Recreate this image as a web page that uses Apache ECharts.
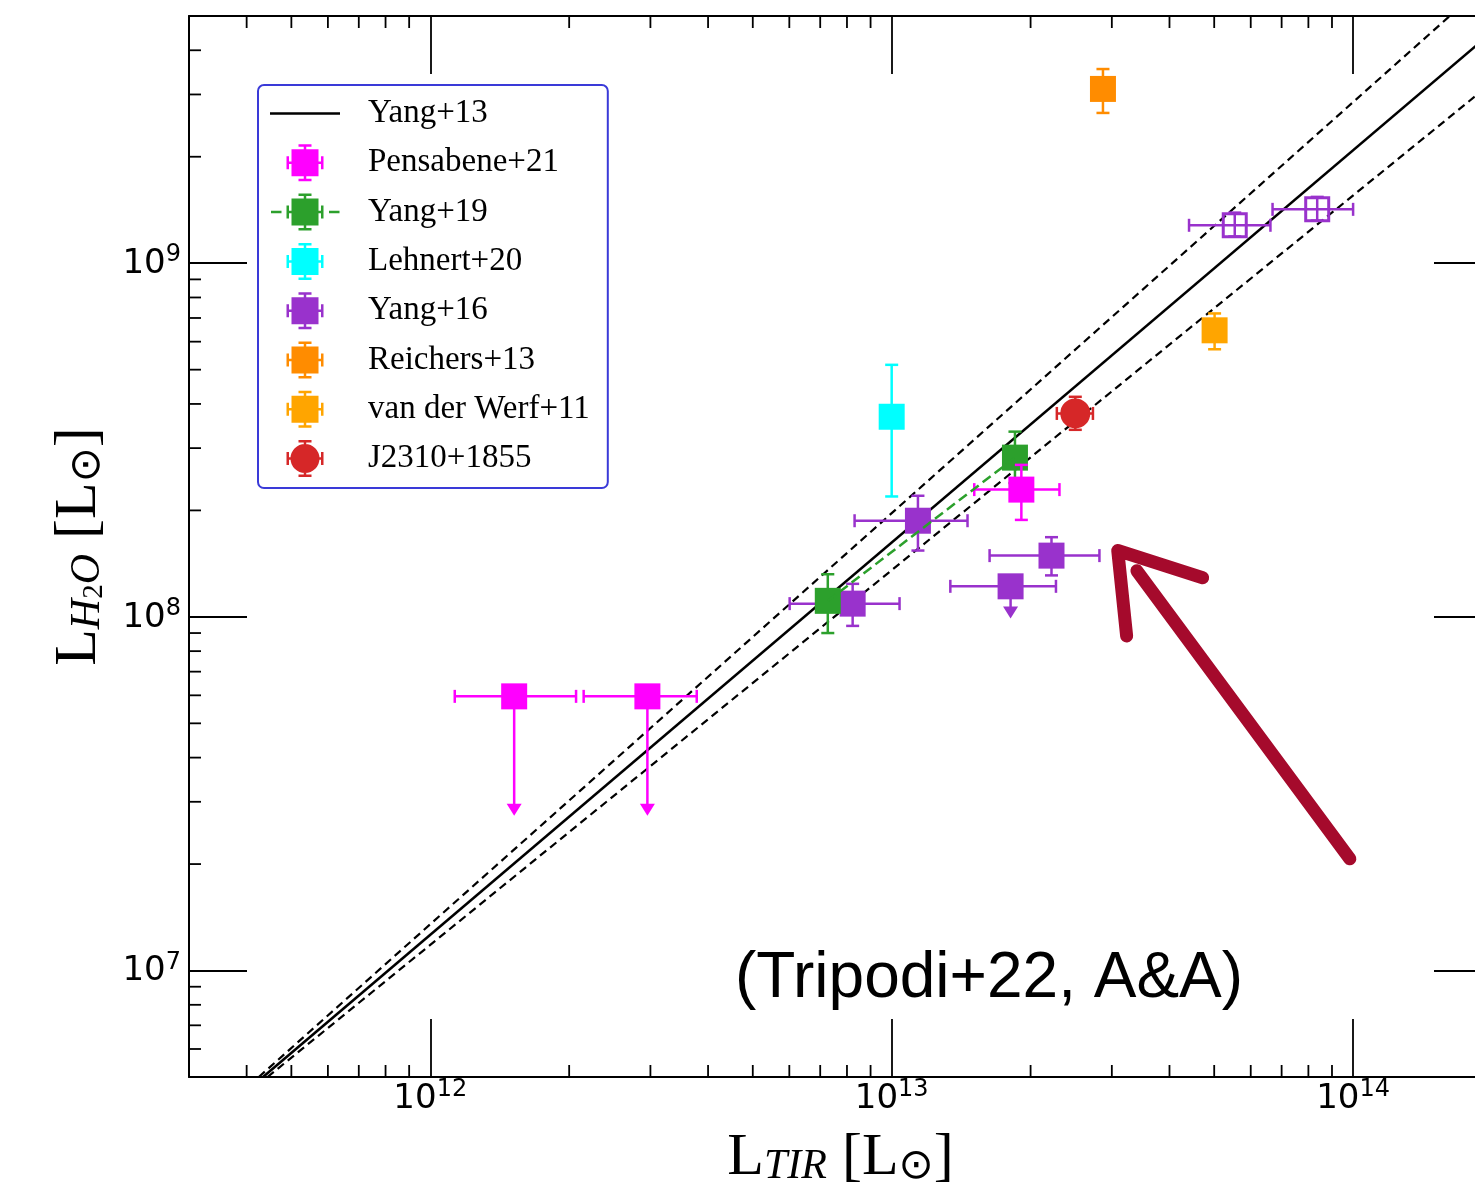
<!DOCTYPE html>
<html>
<head>
<meta charset="utf-8">
<script src="https://cdn.jsdelivr.net/npm/echarts@6/dist/echarts.min.js"></script>
<style>
  html, body { margin: 0; padding: 0; background: #fff; }
  #chart { width: 1475px; height: 1185px; }
</style>
</head>
<body>
<div id="chart"></div>
<script>
// Axis ranges (log scales)
const xRange = [3e11, 2e14];
const yRange = [5e6, 5e9];
const minorMantissas = [2, 3, 4, 5, 6, 7, 8, 9];
const xDecades = [1e11, 1e12, 1e13, 1e14];
const yDecades = [1e6, 1e7, 1e8, 1e9];

// Rows: [L_TIR, L_H2O, xLow, xHigh, yLow, yHigh, upperLimit, openSymbol]
const pensabene21 = [
  [1.52e12, 5.96e7, 1.13e12, 2.07e12, 2.74e7, null, 1, 0],
  [2.955e12, 5.96e7, 2.15e12, 3.78e12, 2.74e7, null, 1, 0],
  [1.91e13, 2.29e8, 1.51e13, 2.31e13, 1.88e8, 2.69e8, 0, 0]
];
const yang19 = [
  [7.27e12, 1.11e8, null, null, 9.0e7, 1.32e8, 0, 0],
  [1.85e13, 2.82e8, null, null, 2.39e8, 3.34e8, 0, 0]
];
const lehnert20 = [
  [1.0e13, 3.68e8, null, null, 2.19e8, 5.16e8, 0, 0]
];
const yang16 = [
  [1.14e13, 1.87e8, 8.31e12, 1.46e13, 1.54e8, 2.20e8, 0, 0],
  [8.23e12, 1.09e8, 6.01e12, 1.04e13, 9.43e7, 1.24e8, 0, 0],
  [1.81e13, 1.22e8, 1.34e13, 2.27e13, 9.9e7, null, 1, 0],
  [2.22e13, 1.49e8, 1.63e13, 2.82e13, 1.31e8, 1.68e8, 0, 0],
  [5.54e13, 1.28e9, 4.41e13, 6.62e13, 1.19e9, 1.39e9, 0, 1],
  [8.36e13, 1.42e9, 6.69e13, 1.00e14, 1.32e9, 1.54e9, 0, 1]
];
const reichers13 = [
  [2.87e13, 3.11e9, null, null, 2.66e9, 3.54e9, 0, 0]
];
const vanDerWerf11 = [
  [5.01e13, 6.46e8, null, null, 5.71e8, 7.21e8, 0, 0]
];
const j2310 = [
  [2.50e13, 3.76e8, 2.28e13, 2.73e13, 3.38e8, 4.19e8, 0, 0]
];

// Yang+13 relation and its scatter band: [x1, y1, x2, y2, dashed]
const yang13 = [
  [4.34e11, 5.0e6, 2.0e14, 4.50e9, 0],
  [4.25e11, 5.0e6, 1.62e14, 5.0e9, 1],
  [4.44e11, 5.0e6, 2.0e14, 3.24e9, 1]
];

// Hand-drawn pointer (data-space vertices)
const pointerShaft = [[9.84e13, 2.07e7], [3.40e13, 1.35e8]];
const pointerHead = [[3.23e13, 8.83e7], [3.09e13, 1.54e8], [4.72e13, 1.29e8]];

const colors = {
  pensabene: '#ff00ff',
  yang19: '#2ca02c',
  lehnert: '#00ffff',
  yang16: '#9932cc',
  reichers: '#ff8c00',
  vdwerf: '#ffa500',
  j2310: '#d62728',
  pointer: '#a50a2c'
};

// minor tick positions (2..9 x decade) strictly inside the ranges
function minorTicks(decades, range) {
  const out = [];
  decades.forEach(d => minorMantissas.forEach(m => {
    const v = m * d;
    if (v > range[0] * 1.0001 && v < range[1] * 0.9999) out.push(v);
  }));
  return out;
}
const xMinor = minorTicks(xDecades, xRange);
const yMinor = minorTicks(yDecades, yRange);
const minorTickData = xMinor.map(v => [v, yRange[0], 0]).concat(yMinor.map(v => [xRange[0], v, 1]));

function renderMinorTicks(params, api) {
  const cs = params.coordSys;
  const len = 12;
  const st = { stroke: '#000', lineWidth: 1.8 };
  if (api.value(2) === 0) {
    const px = api.coord([api.value(0), yRange[0]])[0];
    return { type: 'group', children: [
      { type: 'line', shape: { x1: px, y1: cs.y + cs.height, x2: px, y2: cs.y + cs.height - len }, style: st },
      { type: 'line', shape: { x1: px, y1: cs.y, x2: px, y2: cs.y + len }, style: st }
    ] };
  }
  const py = api.coord([xRange[0], api.value(1)])[1];
  return { type: 'group', children: [
    { type: 'line', shape: { x1: cs.x, y1: py, x2: cs.x + len, y2: py }, style: st },
    { type: 'line', shape: { x1: cs.x + cs.width, y1: py, x2: cs.x + cs.width - len, y2: py }, style: st }
  ] };
}

function renderRelation(params, api) {
  const a = api.coord([api.value(0), api.value(1)]);
  const b = api.coord([api.value(2), api.value(3)]);
  const dashed = api.value(4) === 1;
  return {
    type: 'line',
    shape: { x1: a[0], y1: a[1], x2: b[0], y2: b[1] },
    style: { stroke: '#000', lineWidth: dashed ? 2.2 : 2.6, lineDash: dashed ? [8, 5] : null }
  };
}

// marker with error bars, caps and upper-limit arrows
function makeErrRender(marker) {
  return function (params, api) {
    const x = api.value(0), y = api.value(1);
    const xl = api.value(2), xh = api.value(3), yl = api.value(4), yh = api.value(5);
    const lim = api.value(6) === 1, open = api.value(7) === 1;
    const color = api.visual('color');
    const c = api.coord([x, y]);
    const cap = 6.5;
    const bar = { stroke: color, lineWidth: 2.5 };
    const ch = [];
    const seg = (x1, y1, x2, y2) => ch.push({ type: 'line', shape: { x1, y1, x2, y2 }, style: bar });
    if (isFinite(xl) && isFinite(xh)) {
      const a = api.coord([xl, y])[0], b = api.coord([xh, y])[0];
      seg(a, c[1], b, c[1]);
      seg(a, c[1] - cap, a, c[1] + cap);
      seg(b, c[1] - cap, b, c[1] + cap);
    }
    if (lim && isFinite(yl)) {
      const tip = api.coord([x, yl])[1];
      seg(c[0], c[1], c[0], tip - 10);
      ch.push({ type: 'polygon', shape: { points: [[c[0] - 7.5, tip - 12], [c[0] + 7.5, tip - 12], [c[0], tip]] }, style: { fill: color } });
    } else if (isFinite(yl) && isFinite(yh)) {
      const a = api.coord([x, yh])[1], b = api.coord([x, yl])[1];
      seg(c[0], a, c[0], b);
      seg(c[0] - cap, a, c[0] + cap, a);
      seg(c[0] - cap, b, c[0] + cap, b);
    }
    if (marker === 'circle') {
      ch.push({ type: 'circle', shape: { cx: c[0], cy: c[1], r: 15 }, style: { fill: color } });
    } else if (open) {
      ch.push({ type: 'rect', shape: { x: c[0] - 11.5, y: c[1] - 11.5, width: 23, height: 23 }, style: { fill: 'none', stroke: color, lineWidth: 3 } });
    } else {
      ch.push({ type: 'rect', shape: { x: c[0] - 13, y: c[1] - 13, width: 26, height: 26 }, style: { fill: color } });
    }
    return { type: 'group', children: ch };
  };
}

// legend handles, drawn in a 93 x 37 box (corner specks fix the box size)
const box = 'M0 0L0.01 0L0 0.01Z M93 37L92.99 37L93 36.99Z ';
const bars = 'M33.75 0.5H36.25V36.5H33.75Z M28.5 0H41.5V2.5H28.5Z M28.5 34.5H41.5V37H28.5Z ' +
             'M16.5 17.25H53.5V19.75H16.5Z M16.5 12H19V25H16.5Z M51 12H53.5V25H51Z ';
const iconSquare = 'path://' + box + bars + 'M21.5 5H48.5V32H21.5Z';
const iconDashed = 'path://' + box + bars + 'M21.5 5H48.5V32H21.5Z M1 17.25H11.5V19.75H1Z M59 17.25H69.5V19.75H59Z';
const iconCircle = 'path://' + box + bars + 'M20.5 18.5A14.5 14.5 0 1 1 49.5 18.5A14.5 14.5 0 1 1 20.5 18.5Z';
const iconLine = 'path://' + box + 'M0 17.25H70V19.75H0Z';

function powLabel(v) {
  const e = Math.log10(v);
  const r = Math.round(e);
  return Math.abs(e - r) < 1e-6 ? '{b|10}{s|' + r + '}' : '';
}
const tickRich = {
  b: { fontFamily: 'DejaVu Sans', fontSize: 34, lineHeight: 36, verticalAlign: 'bottom', color: '#000' },
  s: { fontFamily: 'DejaVu Sans', fontSize: 24, lineHeight: 24, padding: [0, 0, 14, 0], verticalAlign: 'bottom', color: '#000' }
};
const nameRich = {
  a: { fontFamily: 'Liberation Serif', fontSize: 60, lineHeight: 68, verticalAlign: 'bottom', color: '#000' },
  i: { fontFamily: 'Liberation Serif', fontStyle: 'italic', fontSize: 42, lineHeight: 42, verticalAlign: 'bottom', color: '#000' },
  j: { fontFamily: 'Liberation Serif', fontSize: 29, lineHeight: 26, verticalAlign: 'bottom', color: '#000' },
  o: { fontFamily: 'DejaVu Sans', fontSize: 42, lineHeight: 68, verticalAlign: 'bottom', color: '#000' }
};

const axisBase = {
  type: 'log',
  logBase: 10,
  splitLine: { show: false },
  minorTick: { show: false },
  axisLine: { show: true, onZero: false, lineStyle: { color: '#000', width: 2 } },
  axisTick: { show: true, inside: true, length: 58, lineStyle: { color: '#000', width: 1.8 } }
};

const chart = echarts.init(document.getElementById('chart'), null, { renderer: 'canvas' });

const errSeries = (name, data, color, marker) => ({
  type: 'custom', name, data, coordinateSystem: 'cartesian2d',
  encode: { x: 0, y: 1 },
  itemStyle: { color },
  renderItem: makeErrRender(marker),
  silent: true
});

chart.setOption({
  animation: false,
  backgroundColor: '#fff',
  grid: { left: 189, top: 16, right: -17, bottom: 108, containLabel: false, outerBoundsMode: 'none' },
  xAxis: [
    Object.assign({}, axisBase, {
      min: xRange[0], max: xRange[1], position: 'bottom',
      axisLabel: { formatter: powLabel, margin: 3, rich: tickRich, showMinLabel: false, showMaxLabel: false },
      name: '{a|L}{i|TIR}{a| [L}{o|⊙}{a|]}',
      nameLocation: 'middle', nameGap: 43,
      nameTextStyle: { rich: nameRich }
    }),
    Object.assign({}, axisBase, {
      min: xRange[0], max: xRange[1], position: 'top',
      axisLabel: { show: false }
    })
  ],
  yAxis: [
    Object.assign({}, axisBase, {
      min: yRange[0], max: yRange[1], position: 'left',
      axisLabel: { formatter: powLabel, margin: 8, rich: tickRich, showMinLabel: false, showMaxLabel: false },
      name: '{a|L}{i|H}{j|2}{i|O}{a| [L}{o|⊙}{a|]}',
      nameLocation: 'middle', nameGap: 80,
      nameTextStyle: { rich: nameRich }
    }),
    Object.assign({}, axisBase, {
      min: yRange[0], max: yRange[1], position: 'right',
      axisLabel: { show: false }
    })
  ],
  legend: {
    left: 258, top: 85, orient: 'vertical',
    padding: [10, 18, 11, 12],
    itemWidth: 93, itemHeight: 37, itemGap: 12.3,
    backgroundColor: '#fff', borderColor: '#3a3ad8', borderWidth: 2, borderRadius: 6,
    selectedMode: false,
    itemStyle: { borderWidth: 0 },
    textStyle: { fontFamily: 'Liberation Serif', fontSize: 33, color: '#000', lineHeight: 37 },
    data: [
      { name: 'Yang+13', icon: iconLine },
      { name: 'Pensabene+21', icon: iconSquare },
      { name: 'Yang+19', icon: iconDashed },
      { name: 'Lehnert+20', icon: iconSquare },
      { name: 'Yang+16', icon: iconSquare },
      { name: 'Reichers+13', icon: iconSquare },
      { name: 'van der Werf+11', icon: iconSquare },
      { name: 'J2310+1855', icon: iconCircle }
    ]
  },
  series: [
    {
      type: 'custom', name: 'ticks', data: minorTickData, coordinateSystem: 'cartesian2d',
      encode: { x: 0, y: 1 }, renderItem: renderMinorTicks, silent: true
    },
    {
      type: 'custom', name: 'Yang+13', data: yang13, coordinateSystem: 'cartesian2d',
      encode: { x: [0, 2], y: [1, 3] }, itemStyle: { color: '#000' },
      renderItem: renderRelation, silent: true
    },
    {
      type: 'line', name: 'Yang+19 link', data: yang19.map(r => [r[0], r[1]]),
      symbol: 'none', silent: true,
      lineStyle: { color: colors.yang19, width: 2.5, type: [10, 5] }
    },
    errSeries('Lehnert+20', lehnert20, colors.lehnert, 'square'),
    errSeries('Yang+16', yang16, colors.yang16, 'square'),
    errSeries('Yang+19', yang19, colors.yang19, 'square'),
    errSeries('Pensabene+21', pensabene21, colors.pensabene, 'square'),
    errSeries('Reichers+13', reichers13, colors.reichers, 'square'),
    errSeries('van der Werf+11', vanDerWerf11, colors.vdwerf, 'square'),
    errSeries('J2310+1855', j2310, colors.j2310, 'circle'),
    {
      type: 'line', name: 'pointer shaft', data: pointerShaft, symbol: 'none', silent: true, z: 5,
      lineStyle: { color: colors.pointer, width: 13, cap: 'round', join: 'round' }
    },
    {
      type: 'line', name: 'pointer head', data: pointerHead, symbol: 'none', silent: true, z: 5,
      lineStyle: { color: colors.pointer, width: 13, cap: 'round', join: 'round' }
    }
  ],
  graphic: [
    {
      type: 'text', left: 735, top: 947, z: 100,
      style: { text: '(Tripodi+22, A&A)', font: '64px "Liberation Sans"', fill: '#000' }
    }
  ]
});
</script>
</body>
</html>
